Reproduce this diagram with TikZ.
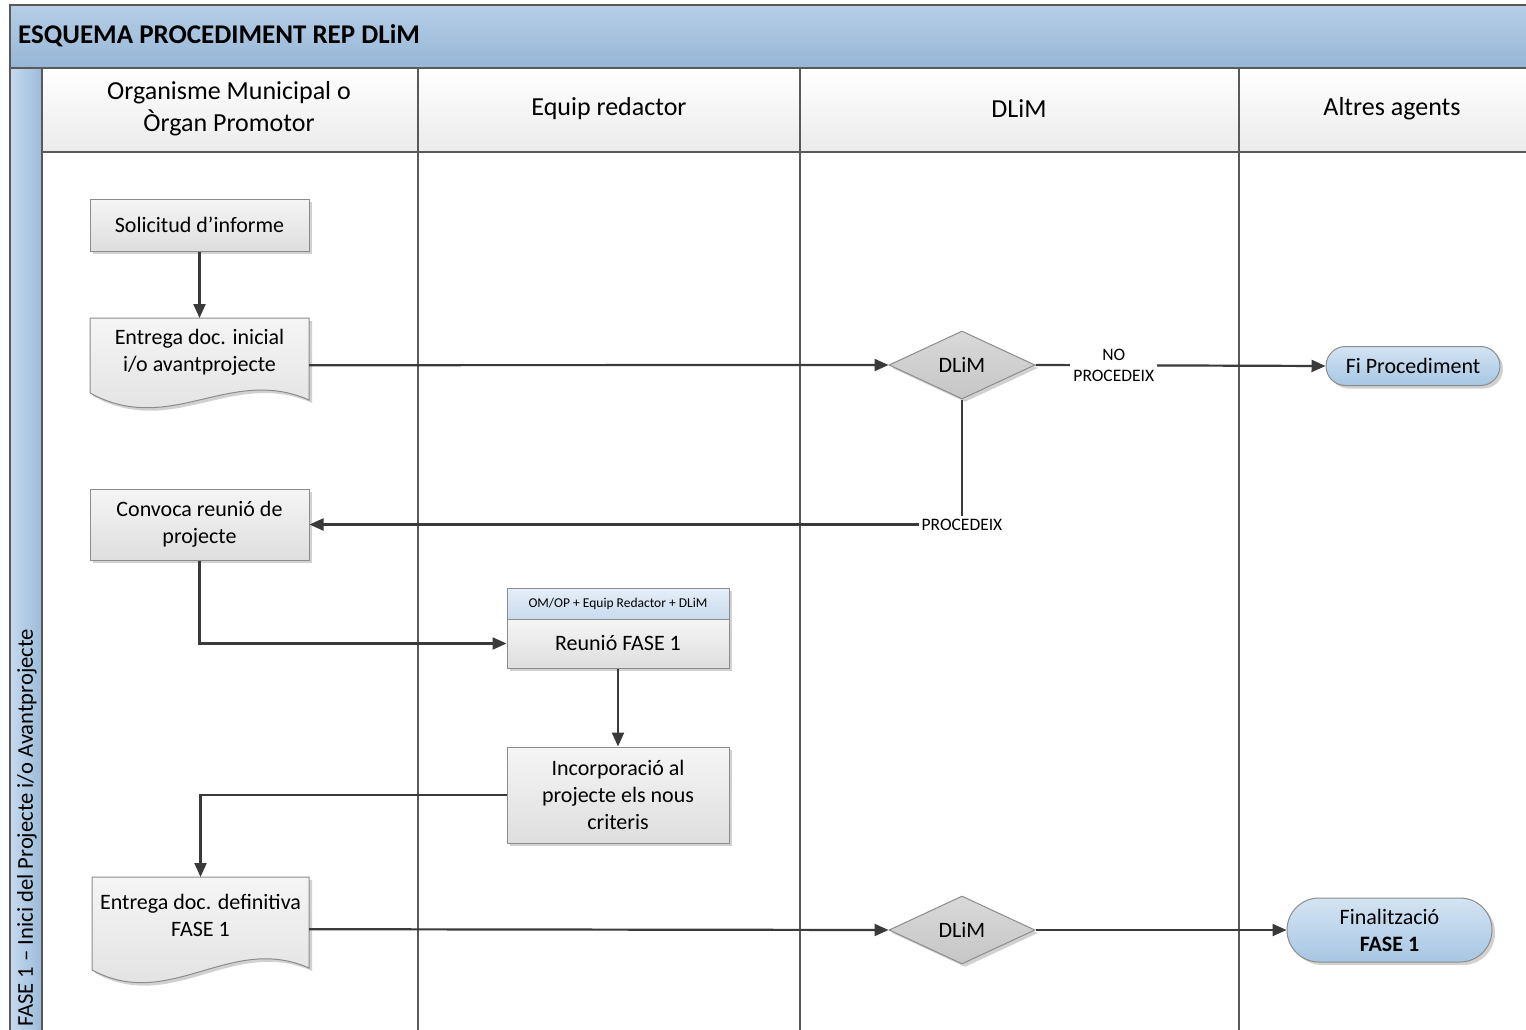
\documentclass[tikz,border=0pt]{standalone}
\usepackage{fontspec}
\setmainfont{Carlito}
\usetikzlibrary{shapes.geometric,shapes.misc,shadows,arrows.meta,calc}
\definecolor{frame}{HTML}{595959}
\definecolor{ln}{HTML}{3A3A3A}
\definecolor{boxline}{HTML}{8C8C8C}
\definecolor{boxtop}{HTML}{F5F5F5}
\definecolor{boxbot}{HTML}{DEDEDE}
\definecolor{diatop}{HTML}{D9D9D9}
\definecolor{diabot}{HTML}{C6C6C6}
\definecolor{titletop}{HTML}{B6CEE6}
\definecolor{titlebot}{HTML}{96B6D6}
\definecolor{bandl}{HTML}{C6DAEE}
\definecolor{bandr}{HTML}{9BBBDA}
\definecolor{hdrbot}{HTML}{EBEBEB}
\definecolor{pilltop}{HTML}{D3E4F3}
\definecolor{pillbot}{HTML}{A7C6E3}
\definecolor{subtop}{HTML}{E6EFF8}
\definecolor{subbot}{HTML}{C8DBEE}
\newcommand\fTitle{\fontsize{27}{30}\selectfont\bfseries}
\newcommand\fHead{\fontsize{26}{32}\selectfont}
\newcommand\fBody{\fontsize{22}{27}\selectfont}
\newcommand\fLbl{\fontsize{17.5}{21}\selectfont}
\newcommand\fSub{\fontsize{13.5}{16}\selectfont}
\newcommand\fLane{\fontsize{22.6}{28}\selectfont}
\tikzset{
  lanerule/.style={draw=frame, line width=1.6pt},
  shadowed/.style={drop shadow={shadow xshift=3pt, shadow yshift=-3pt, opacity=0.18, fill=black}},
  procbox/.style={draw=boxline, line width=1pt, top color=boxtop, bottom color=boxbot, shadowed, align=center, font=\fBody, inner sep=0pt},
  docshape/.style={draw=boxline, line width=1pt, top color=boxtop, bottom color=boxbot, shadowed},
  plain/.style={inner sep=0pt, align=center, font=\fBody},
  decision/.style={diamond, draw=boxline, line width=1pt, top color=diatop, bottom color=diabot, shadowed, inner sep=0pt, font=\fBody},
  terminal/.style={rounded rectangle, draw=boxline, line width=1pt, top color=pilltop, bottom color=pillbot, shadowed, inner sep=0pt, align=center, font=\fBody},
  conn/.style={draw=ln, line width=2.2pt, -{Triangle[length=14pt,width=12pt]}},
  lbl/.style={fill=white, inner sep=3pt, align=center, font=\fLbl},
}
\begin{document}
\begin{tikzpicture}[x=1pt,y=-1pt]
\useasboundingbox (0,0) rectangle (1526,1030);
\fill[white] (0,0) rectangle (1526,1030);
% title band
\shade[top color=titletop,bottom color=titlebot] (10,5) rectangle (1540,68);
\node[anchor=west,font=\fTitle,inner sep=0pt] (title) at (18,36) {ESQUEMA PROCEDIMENT REP DLiM};
% left lane band
\shade[left color=bandl,right color=bandr] (10,68) rectangle (42,1040);
\node[rotate=90,anchor=west,font=\fLane,inner sep=0pt] (lane) at (27,1027) {FASE 1 – Inici del Projecte i/o Avantprojecte};
% header row
\shade[top color=white,bottom color=hdrbot] (42,68) rectangle (1540,152);
\node[font=\fHead,align=center] (h1) at (229,109) {Organisme Municipal o\\Òrgan Promotor};
\node[font=\fHead] (h2) at (609,109) {Equip redactor};
\node[font=\fHead] (h3) at (1019,109) {DLiM};
\node[font=\fHead] (h4) at (1392,109) {Altres agents};
% frame lines
\draw[lanerule] (10,1040) -- (10,5) -- (1540,5);
\draw[lanerule] (10,68) -- (1540,68);
\draw[lanerule] (42,68) -- (42,1040);
\draw[lanerule] (42,152) -- (1540,152);
\foreach \xx in {418,800,1239} \draw[lanerule] (\xx,68) -- (\xx,1040);

% nodes
\node[procbox, minimum width=219pt, minimum height=52pt] (sol) at (199.5,225) {Solicitud d’informe};

\path[docshape] (90,318) -- (309,318) -- (309,400) .. controls (230,365) and (170,437) .. (90,393) -- cycle;
\node[plain, minimum width=219pt, minimum height=94pt, anchor=north] (e1) at (199.5,318) {};
\node[plain] (e1t) at (199.5,352.5) {Entrega doc. inicial\\i/o avantprojecte};

\node[decision, minimum width=146pt, minimum height=68pt] (d1) at (962,365) {DLiM};
\node[terminal, minimum width=174pt, minimum height=39pt] (fi) at (1413,366) {Fi Procediment};

\node[procbox, minimum width=219pt, minimum height=71pt] (conv) at (199.5,524.5) {Convoca reunió de\\projecte};

\node[procbox, minimum width=222pt, minimum height=31pt, top color=subtop, bottom color=subbot, font=\fSub] (reuh) at (618,603.5) {OM/OP + Equip Redactor + DLiM};
\node[procbox, minimum width=222pt, minimum height=49pt] (reu) at (618,643.5) {Reunió FASE 1};

\node[procbox, minimum width=222pt, minimum height=96pt] (inc) at (618,795) {Incorporació al\\projecte els nous\\criteris};

\path[docshape] (92,877) -- (309,877) -- (309,968) .. controls (230,933) and (170,1012) .. (92,970) -- cycle;
\node[plain, minimum width=217pt, minimum height=104pt, anchor=north] (e2) at (200.5,877) {};
\node[plain] (e2t) at (200.5,915.5) {Entrega doc. definitiva\\FASE 1};

\node[decision, minimum width=146pt, minimum height=68pt] (d2) at (962,930) {DLiM};
\node[terminal, minimum width=205pt, minimum height=64pt] (fin) at (1389.5,930) {Finalització\\\textbf{FASE 1}};

% connectors
\draw[conn] (sol) -- (e1);
\draw[conn] (e1.east) -- (d1.west);
\draw[conn] (d1.east) -- node[lbl, pos=0.27] (nolbl) {NO\\PROCEDEIX} (fi.west);
\draw[conn] (d1.south) |- node[lbl, pos=0.5] (silbl) {PROCEDEIX} (conv.east);
\draw[conn] (conv.south) |- (reu.west);
\draw[conn] (reu.south) -- (inc.north);
\draw[conn] (inc.west) -| (e2.north);
\draw[conn] (e2.east) -- (d2.west);
\draw[conn] (d2.east) -- (fin.west);
\end{tikzpicture}
\end{document}
